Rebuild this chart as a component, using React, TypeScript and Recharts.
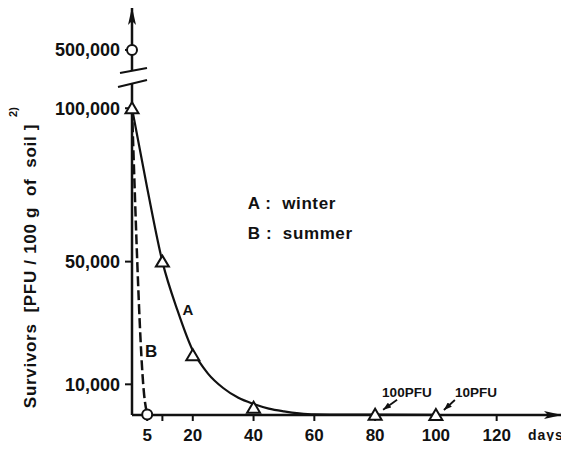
import React from 'react'
import { LineChart, Line, XAxis, YAxis, ReferenceDot } from 'recharts'

// A: winter, measured survivors (PFU / 100 g of soil) by day
const winterPointDays = [0, 10, 20, 40, 80, 100]
const winterPointSurvivors = [100000, 50000, 19500, 2400, 100, 10]
// A: hand-drawn fit curve
const winterCurveDays = [0, 5, 10, 15, 20, 25, 30, 35, 40, 45, 50, 55, 60, 70, 80, 100]
const winterCurveSurvivors = [100000, 74000, 50000, 34000, 21000, 13500, 8800, 5600, 3600, 2100, 1200, 550, 200, 100, 100, 10]

// B: summer
const summerCurveDays = [0, 4, 5]
const summerCurveSurvivors = [100000, 6500, 200]
const summerPointDays = [0, 5]
const summerPointSurvivors = [500000, 200]

const xTicks = [5, 10, 20, 40, 60, 80, 100, 120]
const xTickLabels = ['5', '', '20', '40', '60', '80', '100', '120']
const yTicks = [10000, 50000, 100000, 500000]
const yTickLabels = ['10,000', '50,000', '100,000', '500,000']

const noteDays = [80, 100]
const noteValues = [100, 10]
const noteLabels = ['100PFU', '10PFU']

const legendKeys = ['A', 'B']
const legendNames = ['winter', 'summer']

const curveLabels = ['A', 'B']
const curveLabelDays = [18.4, 6.3]
const curveLabelValues = [32600, 18900]

// axis break: everything above 100,000 is drawn just above the break
const BREAK_TOP = 100000
const BREAK_PLOT = 119000
const BREAK_MARK = 110500
const toPlot = (v: number) => (v > BREAK_TOP ? BREAK_PLOT : v)

const FONT = '"Liberation Sans", Arial, sans-serif'
const INK = '#111'
const NOTE_TEXT_DX = [7, 19]

const rows = (days: number[], vals: number[]) => days.map((d, i) => ({ day: d, value: toPlot(vals[i]) }))
const winterCurve = rows(winterCurveDays, winterCurveSurvivors)
const winterPoints = rows(winterPointDays, winterPointSurvivors)
const summerCurve = rows(summerCurveDays, summerCurveSurvivors)
const summerPoints = rows(summerPointDays, summerPointSurvivors)

const Triangle = (props: any) => {
  const { cx, cy, index } = props
  return (
    <polygon
      key={`t${index}`}
      points={`${cx},${cy - 6} ${cx - 6.5},${cy + 5} ${cx + 6.5},${cy + 5}`}
      fill="#fff"
      stroke={INK}
      strokeWidth={2}
    />
  )
}

const OpenCircle = (props: any) => {
  const { cx, cy, index } = props
  return <circle key={`c${index}`} cx={cx} cy={cy} r={5} fill="#fff" stroke={INK} strokeWidth={2} />
}

const BreakMark = (props: any) => {
  const { cx, cy } = props
  return (
    <g>
      <polygon points={`${cx - 12},${cy - 3} ${cx + 15},${cy - 8} ${cx + 15},${cy + 4} ${cx - 14},${cy + 11}`} fill="#fff" />
      <line x1={cx - 12} y1={cy - 3} x2={cx + 15} y2={cy - 8} stroke={INK} strokeWidth={2} />
      <line x1={cx - 14} y1={cy + 11} x2={cx + 15} y2={cy + 4} stroke={INK} strokeWidth={2} />
    </g>
  )
}

const noteShape = (i: number) => (props: any) => {
  const { cx, cy } = props
  const dx = NOTE_TEXT_DX[i]
  const ax = i === 0 ? 22 : 19
  return (
    <g>
      <line x1={cx + ax} y1={cy - 15} x2={cx + 8} y2={cy - 5} stroke={INK} strokeWidth={1.8} markerEnd="url(#noteArrow)" />
      <text x={cx + dx} y={cy - 18} fontFamily={FONT} fontWeight="bold" fontSize={13.5} fill={INK}>
        {noteLabels[i]}
      </text>
    </g>
  )
}

const LegendShape = (props: any) => {
  const { cx, cy } = props
  return (
    <g>
      {legendKeys.map((k, i) => (
        <text key={k} x={cx} y={cy + i * 30} fontFamily={FONT} fontWeight="bold" fontSize={17} letterSpacing={0.6} fill={INK} style={{ whiteSpace: 'pre' }}>
          {`${k} :  ${legendNames[i]}`}
        </text>
      ))}
    </g>
  )
}

const curveLabelShape = (i: number) => (props: any) => (
  <text x={props.cx} y={props.cy} textAnchor="middle" fontFamily={FONT} fontWeight="bold" fontSize={i === 0 ? 15 : 17} fill={INK}>
    {curveLabels[i]}
  </text>
)

const YLabel = () => (
  <g>
    <text
      x={36}
      y={266}
      transform="rotate(-90, 36, 266)"
      textAnchor="middle"
      fontFamily={FONT}
      fontWeight="bold"
      fontSize={17}
      letterSpacing={0.7}
      fill={INK}
      style={{ whiteSpace: 'pre' }}
    >
      {'Survivors  [PFU / 100 g  of  soil ]'}
    </text>
    <text x={17} y={112} transform="rotate(-90, 17, 112)" textAnchor="middle" fontFamily={FONT} fontWeight="bold" fontSize={11} fill={INK}>
      2)
    </text>
  </g>
)

const DaysLabel = (props: any) => {
  const { viewBox } = props
  return (
    <text x={viewBox.x + viewBox.width - 34} y={viewBox.y + 25} fontFamily={FONT} fontWeight="bold" fontSize={14} letterSpacing={1} fill={INK}>
      days
    </text>
  )
}

export default function App() {
  const tickStyle = { fontFamily: FONT, fontWeight: 'bold', fontSize: 17, fill: INK }
  const yTickPos = yTicks.map(toPlot)
  return (
    <div style={{ width: 569, height: 449, background: '#fff', margin: -8 }}>
      <LineChart width={569} height={449} margin={{ top: 7, right: 7, bottom: 4, left: 0 }}>
        <defs>
          <marker id="axisArrow" viewBox="0 0 18 8" refX={18} refY={4} markerWidth={18} markerHeight={8} orient="auto-start-reverse" markerUnits="userSpaceOnUse">
            <path d="M0,0 L18,4 L0,8 L4,4 Z" fill={INK} />
          </marker>
          <marker id="noteArrow" viewBox="0 0 8 6" refX={8} refY={3} markerWidth={8} markerHeight={6} orient="auto" markerUnits="userSpaceOnUse">
            <path d="M0,0 L8,3 L0,6 Z" fill={INK} />
          </marker>
        </defs>
        <XAxis
          dataKey="day"
          type="number"
          domain={[0, 141.5]}
          ticks={xTicks}
          tickFormatter={(v: number) => xTickLabels[xTicks.indexOf(v)]}
          height={30}
          tickSize={6}
          tickMargin={8}
          tick={tickStyle}
          tickLine={{ stroke: INK, strokeWidth: 2 }}
          axisLine={{ stroke: INK, strokeWidth: 2.5, markerEnd: 'url(#axisArrow)' }}
          allowDuplicatedCategory={false}
          label={<DaysLabel />}
        />
        <YAxis
          dataKey="value"
          type="number"
          domain={[0, 133000]}
          ticks={yTickPos}
          tickFormatter={(v: number) => yTickLabels[yTickPos.indexOf(v)]}
          width={132}
          tickSize={7}
          tickMargin={5}
          tick={{ ...tickStyle, fontSize: 18 }}
          tickLine={{ stroke: INK, strokeWidth: 2 }}
          axisLine={{ stroke: INK, strokeWidth: 2.5, markerStart: 'url(#axisArrow)' }}
          label={<YLabel />}
        />
        <Line
          data={summerCurve}
          dataKey="value"
          type="monotone"
          stroke={INK}
          strokeWidth={2.5}
          strokeDasharray="10 4"
          dot={false}
          isAnimationActive={false}
        />
        <Line
          data={winterCurve}
          dataKey="value"
          type="monotone"
          stroke={INK}
          strokeWidth={2.2}
          dot={false}
          isAnimationActive={false}
        />
        <Line data={winterPoints} dataKey="value" stroke="none" dot={Triangle} isAnimationActive={false} />
        <Line data={summerPoints} dataKey="value" stroke="none" dot={OpenCircle} isAnimationActive={false} />
        <ReferenceDot x={0} y={BREAK_MARK} r={0} shape={BreakMark} ifOverflow="visible" />
        {noteDays.map((d, i) => (
          <ReferenceDot key={`n${i}`} x={d} y={noteValues[i]} r={0} shape={noteShape(i)} ifOverflow="visible" />
        ))}
        <ReferenceDot x={38.1} y={67100} r={0} shape={LegendShape} ifOverflow="visible" />
        {curveLabels.map((c, i) => (
          <ReferenceDot key={c} x={curveLabelDays[i]} y={curveLabelValues[i]} r={0} shape={curveLabelShape(i)} ifOverflow="visible" />
        ))}
      </LineChart>
    </div>
  )
}
